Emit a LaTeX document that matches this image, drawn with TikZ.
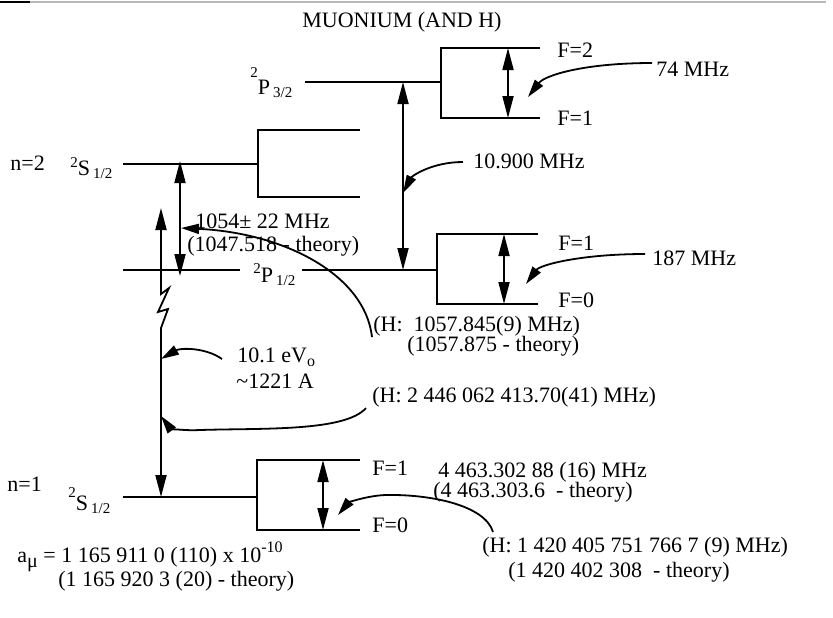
\documentclass[tikz,border=0pt]{standalone}
\usepackage{fontspec}
\setmainfont{Liberation Serif}
\usetikzlibrary{arrows.meta}
% term symbol: raised multiplicity, letter, lowered J
\newcommand{\term}[4][4pt]{\raisebox{#1}{\fontsize{7.5}{8}\selectfont #2}#3\hspace{1.5pt}\raisebox{-1.5pt}{\fontsize{7.5}{8}\selectfont #4}}
\newcommand{\lowr}[1]{\raisebox{-2pt}{\fontsize{8}{9}\selectfont #1}}

\begin{document}
\begin{tikzpicture}[x=0.5pt, y=-0.5pt,
    lvl/.style={line width=0.9pt},
    split/.style={line width=0.9pt, {Triangle[length=11pt,width=5.5pt]}-{Triangle[length=11pt,width=5.5pt]}},
    pointer/.style={line width=0.9pt, -{Triangle[length=9pt,width=5pt]}},
    lab/.style={font=\fontsize{11}{13}\selectfont, inner sep=0pt, anchor=base west}]
  \useasboundingbox (0,0) rectangle (833,617);
  % scan edge along the top
  \draw[gray!55, line width=0.8pt] (0,2) -- (826,2);
  \draw[line width=0.8pt] (0,2) -- (30,2);
  \node[lab, anchor=base] (title) at (402,27) {MUONIUM (AND H)};

  % fine structure levels
  \draw[lvl] (305,82) -- (441,82);
  \draw[lvl] (123,164) -- (258,164);
  \draw[lvl] (123,270) -- (240,270);
  \draw[lvl] (302,270) -- (437,270);
  \draw[lvl] (123,497) -- (257,497);
  % hyperfine boxes and their splittings
  \foreach \bx/\tp/\bt/\ex in {441/48/118/540, 258/130/197/360, 437/234/304/538, 257/460/530/360}
    \draw[lvl] (\ex,\tp) -- (\bx,\tp) -- (\bx,\bt) -- (\ex,\bt);
  \foreach \ax/\tp/\bt in {508/48/118, 504/234/304, 323/460/530}
    \draw[split] (\ax,\tp) -- (\ax,\bt);
  \draw[split] (403,82) -- (403,270);
  \draw[split] (180,161) -- (180,276);
  % 1S-2S, broken shaft
  \draw[split] (161,208) -- (161,294) -- (169,288) -- (158,312) -- (168,309) -- (161,328) -- (161,497);

  \node[lab] (p32) at (250,94) {\term[8.5pt]{2}{P}{3/2}};
  \node[lab] (n2) at (10,170) {n=2};
  \node[lab] (s2) at (70,175) {\term{2}{S}{1/2}};
  \node[lab] (p12) at (253,282) {\term[4.5pt]{2}{P}{1/2}};
  \node[lab] (n1) at (7,491) {n=1};
  \node[lab] (s1) at (68,510) {\term[6.5pt]{2}{S}{1/2}};

  \node[lab] (f2a) at (557,57) {F=2};
  \node[lab] (f1a) at (557,125) {F=1};
  \node[lab] (f1b) at (558,250) {F=1};
  \node[lab] (f0b) at (558,307) {F=0};
  \node[lab] (f1c) at (372,475) {F=1};
  \node[lab] (f0c) at (372,532) {F=0};

  \node[lab] (t74) at (656,76) {74 MHz};
  \node[lab] (t109) at (473,168) {10.900 MHz};
  \node[lab] (t187) at (652,265) {187 MHz};
  \node[lab] (t1054) at (195,228) {1054± 22 MHz};
  \node[lab] (t1047) at (187,251) {(1047.518 - theory)};
  \node[lab] (lamb) at (373,331) {(H:\ \ 1057.845(9) MHz)};
  \node[lab] (lambth) at (407,351) {(1057.875 - theory)};
  \node[lab] (t101) at (237,362) {10.1 eV\lowr{o}};
  \node[lab] (t1221) at (236,388) {\textasciitilde1221 A};
  \node[lab] (ly) at (372,402) {(H: 2 446 062 413.70(41) MHz)};
  \node[lab] (t4463) at (438,477) {4 463.302 88 (16) MHz};
  \node[lab] (t4463th) at (433,497) {(4 463.303.6\ \ - theory)};
  \node[lab] (hfsh) at (482,552) {(H: 1 420 405 751 766 7 (9) MHz)};
  \node[lab] (hfshth) at (508,577) {(1 420 402 308\ \ - theory)};
  \node[lab] (amu) at (17,562) {a\raisebox{-2.5pt}{\fontsize{10}{11}\selectfont μ} = 1 165 911 0 (110) x 10\raisebox{5pt}{\fontsize{8}{9}\selectfont -10}};
  \node[lab] (amuth) at (58,586) {(1 165 920 3 (20) - theory)};

  % pointers from the values to the intervals
  \coordinate (hf74) at (528,97);
  \coordinate (fs109) at (403,193);
  \coordinate (hf187) at (526,284);
  \coordinate (ls1054) at (181,228);
  \coordinate (ly101) at (161,359);
  \coordinate (ly2446) at (161,416);
  \coordinate (hf1s) at (338,515);
  \draw[pointer] ([shift={(-2pt,6.5pt)}]t74.base west) .. controls (585,63) and (545,75) .. (hf74);
  \draw[pointer] ([shift={(-5pt,3pt)}]t109.base west) .. controls (432,162) and (412,176) .. (fs109);
  \draw[pointer] ([shift={(-3.5pt,5.5pt)}]t187.base west) .. controls (580,254) and (540,265) .. (hf187);
  \draw[pointer] ([shift={(-0.5pt,-3pt)}]lamb.base west) .. controls (365,275) and (285,233) .. (ls1054);
  \draw[pointer] ([shift={(-7.5pt,1.5pt)}]t101.base west) .. controls (205,347) and (180,348) .. (ly101);
  \draw[pointer] ([shift={(-3pt,-3pt)}]ly.base west) .. controls (345,432) and (260,428) .. (200,430)
    .. controls (185,431) and (170,428) .. (ly2446);
  \draw[pointer] ([shift={(5.5pt,10pt)}]hfsh.base west) .. controls (485,505) and (430,494) .. (385,495)
    .. controls (365,496) and (348,503) .. (hf1s);
\end{tikzpicture}
\end{document}
